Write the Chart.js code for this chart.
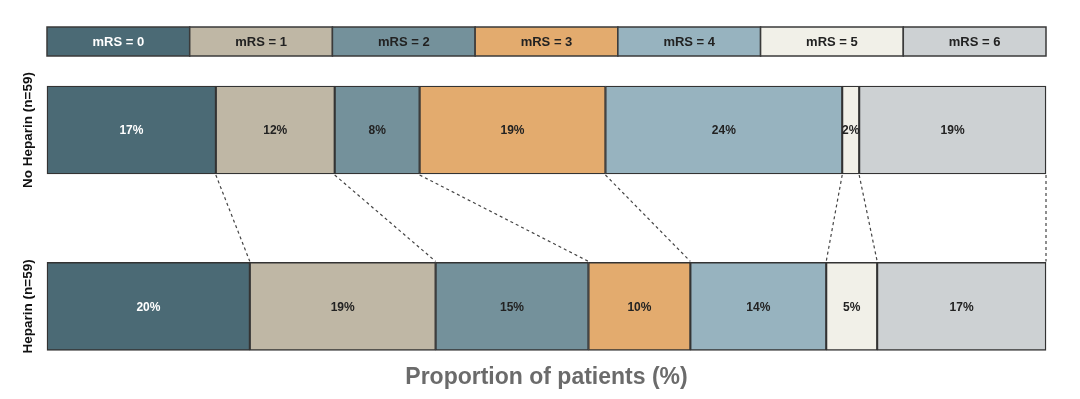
<!DOCTYPE html>
<html>
<head>
<meta charset="utf-8">
<script src="https://cdn.jsdelivr.net/npm/chart.js@4.4.1/dist/chart.umd.min.js"></script>
<style>
  html, body { margin: 0; padding: 0; background: #fff; }
  #wrap { width: 1080px; height: 399px; }
</style>
</head>
<body>
<div id="wrap"><canvas id="mrsChart"></canvas></div>
<script>
// Групи (рядки) і категорії mRS
const groups = ['No Heparin (n=59)', 'Heparin (n=59)'];
const mrsLabels = ['mRS = 0', 'mRS = 1', 'mRS = 2', 'mRS = 3', 'mRS = 4', 'mRS = 5', 'mRS = 6'];

// Частки пацієнтів, %
const noHeparinValues = [16.9, 11.9, 8.5, 18.6, 23.7, 1.7, 18.7];
const heparinValues   = [20.3, 18.6, 15.3, 10.2, 13.6, 5.1, 16.9];

// Підписи всередині сегментів
const noHeparinLabels = ['17%', '12%', '8%', '19%', '24%', '2%', '19%'];
const heparinLabels   = ['20%', '19%', '15%', '10%', '14%', '5%', '17%'];

const mrsColors = ['#4b6a75', '#bfb7a5', '#74919b', '#e3ab6e', '#97b3bf', '#f1f0e8', '#cdd1d3'];
const textColors = ['#ffffff', '#222222', '#222222', '#222222', '#222222', '#222222', '#222222'];

const FONT = '"Liberation Sans", Arial, sans-serif';

// Смуга легенди над графіком
const legendStrip = {
    id: 'legendStrip',
    afterDraw(chart) {
        const {ctx, chartArea} = chart;
        const top = 27, h = 29;
        const w = (chartArea.right - chartArea.left) / mrsLabels.length;
        ctx.save();
        mrsLabels.forEach((lab, i) => {
            const x = chartArea.left + i * w;
            ctx.fillStyle = mrsColors[i];
            ctx.fillRect(x, top, w, h);
            ctx.strokeStyle = '#3a3a3a';
            ctx.lineWidth = 1.5;
            ctx.strokeRect(x, top, w, h);
            ctx.fillStyle = textColors[i];
            ctx.font = 'bold 13px ' + FONT;
            ctx.textAlign = 'center';
            ctx.textBaseline = 'middle';
            ctx.fillText(lab, x + w / 2, top + h / 2 + 1);
        });
        ctx.restore();
    }
};

// Пунктирні з'єднання між межами сегментів, підписи сегментів і рядків
const barExtras = {
    id: 'barExtras',
    afterDatasetsDraw(chart) {
        const {ctx, scales} = chart;
        const xs = scales.x, ys = scales.y;
        ctx.save();

        // з'єднувальні лінії
        ctx.strokeStyle = '#444';
        ctx.lineWidth = 1.2;
        ctx.setLineDash([3, 3]);
        let cumTop = 0, cumBot = 0;
        const barTop = chart.getDatasetMeta(0).data[0];
        const barBot = chart.getDatasetMeta(0).data[1];
        const yFrom = barTop.y + barTop.height / 2;
        const yTo = barBot.y - barBot.height / 2;
        for (let i = 0; i < mrsLabels.length; i++) {
            cumTop += noHeparinValues[i];
            cumBot += heparinValues[i];
            ctx.beginPath();
            ctx.moveTo(xs.getPixelForValue(cumTop), yFrom + 1);
            ctx.lineTo(xs.getPixelForValue(cumBot), yTo - 1);
            ctx.stroke();
        }
        ctx.setLineDash([]);

        // підписи всередині сегментів
        ctx.font = 'bold 12px ' + FONT;
        ctx.textAlign = 'center';
        ctx.textBaseline = 'middle';
        chart.data.datasets.forEach((ds, i) => {
            const meta = chart.getDatasetMeta(i);
            meta.data.forEach((bar, j) => {
                const txt = j === 0 ? noHeparinLabels[i] : heparinLabels[i];
                ctx.fillStyle = textColors[i];
                ctx.fillText(txt, (bar.x + bar.base) / 2, bar.y + 1);
            });
        });

        // підписи рядків (повернуті)
        ctx.fillStyle = '#111';
        ctx.font = 'bold 13.5px ' + FONT;
        groups.forEach((g, i) => {
            const y = ys.getPixelForTick(i);
            ctx.save();
            ctx.translate(28, y);
            ctx.rotate(-Math.PI / 2);
            ctx.fillText(g, 0, 0);
            ctx.restore();
        });
        ctx.restore();
    }
};

const datasets = mrsLabels.map((lab, i) => ({
    label: lab,
    data: [noHeparinValues[i], heparinValues[i]],
    backgroundColor: mrsColors[i],
    borderColor: '#333',
    borderWidth: 1.4,
    borderSkipped: false,
    barThickness: 88,
    clip: false
}));

new Chart(document.getElementById('mrsChart'), {
    type: 'bar',
    data: { labels: groups, datasets: datasets },
    options: {
        indexAxis: 'y',
        responsive: true,
        maintainAspectRatio: false,
        animation: false,
        layout: { padding: { left: 47, right: 34, top: 130, bottom: 4 } },
        plugins: { legend: { display: false }, tooltip: { enabled: false } },
        scales: {
            x: {
                stacked: true,
                min: 0,
                max: 100,
                ticks: { display: false },
                grid: { display: false, drawTicks: false },
                border: { display: false },
                title: {
                    display: true,
                    text: 'Proportion of patients (%)',
                    color: '#6b6b6b',
                    font: { family: FONT, size: 23, weight: 'bold' },
                    padding: { top: 57, bottom: 4 }
                }
            },
            y: {
                stacked: true,
                offset: false,
                ticks: { display: false },
                grid: { display: false, drawTicks: false },
                border: { display: false }
            }
        }
    },
    plugins: [legendStrip, barExtras]
});
</script>
</body>
</html>
